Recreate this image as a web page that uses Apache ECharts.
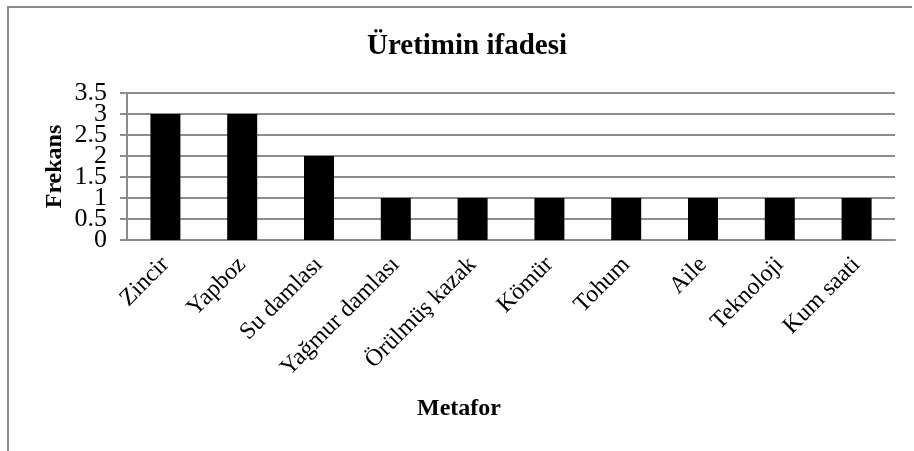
<!DOCTYPE html>
<html>
<head>
<meta charset="UTF-8" />
<title>Üretimin ifadesi</title>
<script src="https://cdn.jsdelivr.net/npm/echarts@6/dist/echarts.min.js"></script>
<style>
  html, body { margin: 0; padding: 0; background: #fff; }
  #frame {
    position: absolute; left: 7px; top: 6px; width: 903px; height: 460px;
    border-left: 2px solid #8c8c8c; border-top: 2px solid #8c8c8c;
  }
  #chart { position: absolute; left: 0; top: 0; width: 914px; height: 451px; }
</style>
</head>
<body>
<div id="frame"></div>
<div id="chart"></div>
<script>
// veriler
var categories = ['Zincir', 'Yapboz', 'Su damlası', 'Yağmur damlası', 'Örülmüş kazak',
                  'Kömür', 'Tohum', 'Aile', 'Teknoloji', 'Kum saati'];
var frekans = [3, 3, 2, 1, 1, 1, 1, 1, 1, 1];
var yMin = 0, yMax = 3.5, yStep = 0.5;
// etiketler iki gruba ayrildi, yoksa echarts sikisik etiketleri gizliyor
var yLabelsWhole = [0, 1, 2, 3];
var yLabelsHalf = [0.5, 1.5, 2.5, 3.5];

var serif = '"Liberation Serif", "Times New Roman", serif';
var gridGray = '#8c8c8c';
var tickFont = { fontFamily: serif, fontSize: 26, color: '#000' };

var chart = echarts.init(document.getElementById('chart'));
chart.setOption({
  animation: false,
  title: {
    text: 'Üretimin ifadesi',
    left: 462, top: 27, textAlign: 'center',
    textStyle: { fontFamily: serif, fontSize: 29, fontWeight: 'bold', color: '#000' }
  },
  grid: { left: 127, right: 19, top: 93, bottom: 211, containLabel: false },
  xAxis: {
    type: 'category',
    data: categories,
    name: 'Metafor',
    nameLocation: 'middle',
    nameGap: 157,
    nameTextStyle: {
      fontFamily: serif, fontSize: 24, fontWeight: 'bold', color: '#000',
      padding: [0, 104, 0, 0]
    },
    axisLine: { lineStyle: { color: gridGray, width: 2 } },
    axisTick: { show: false },
    axisLabel: {
      interval: 0, rotate: 45, margin: 21, hideOverlap: false,
      fontFamily: serif, fontSize: 24, color: '#000'
    }
  },
  yAxis: [{
    type: 'value',
    position: 'left',
    min: yMin, max: yMax, interval: yStep,
    name: 'Frekans',
    nameLocation: 'middle',
    nameGap: 60,
    nameTextStyle: { fontFamily: serif, fontSize: 24, fontWeight: 'bold', color: '#000' },
    axisLine: { show: true, lineStyle: { color: gridGray, width: 2 } },
    axisTick: { show: true, length: 7, lineStyle: { color: gridGray, width: 2 } },
    axisLabel: Object.assign({ margin: 20, customValues: yLabelsWhole }, tickFont),
    splitLine: { lineStyle: { color: gridGray, width: 2 } }
  }, {
    type: 'value',
    position: 'left',
    offset: 0,
    min: yMin, max: yMax, interval: yStep,
    axisLine: { show: false },
    axisTick: { show: false },
    splitLine: { show: false },
    axisLabel: Object.assign({ margin: 20, customValues: yLabelsHalf }, tickFont)
  }],
  series: [{
    name: 'Frekans',
    type: 'bar',
    yAxisIndex: 0,
    data: frekans,
    barWidth: 30,
    itemStyle: { color: '#000' }
  }]
});
</script>
</body>
</html>
